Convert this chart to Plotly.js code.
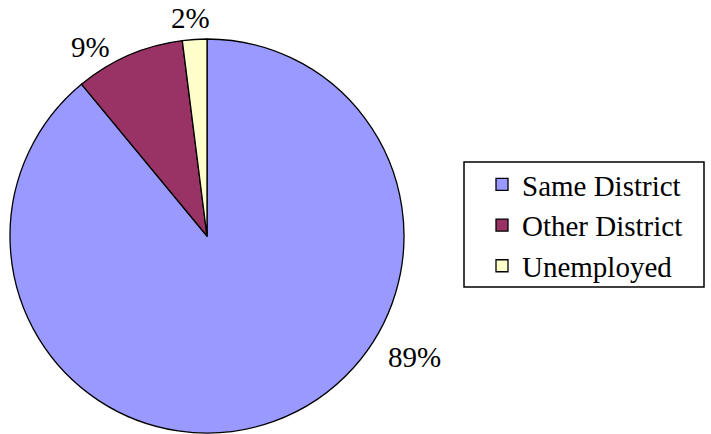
<!DOCTYPE html>
<html><head><meta charset="utf-8">
<script src="https://cdn.plot.ly/plotly-3.0.1.min.js"></script>
<style>html,body{margin:0;padding:0;background:#fff}#chart{width:711px;height:434px}</style>
</head><body><div id="chart"></div>
<script>
const categories = ["Same District", "Other District", "Unemployed"];
const values = [89, 9, 2];
const colors = ["#9999FF", "#993366", "#FFFFCC"];
const labelPos = [[414, 357], [90, 47], [191, 18]];

const W = 711, H = 434;
const cx = 207, cy = 236, r = 197;
const total = values.reduce((a, b) => a + b, 0);
const FONT = "Liberation Serif, Times New Roman, serif";

const trace = {
  type: "pie",
  labels: categories,
  values: values,
  sort: false,
  direction: "clockwise",
  rotation: 0,
  marker: { colors: colors, line: { color: "#000", width: 1.3 } },
  textinfo: "none",
  hoverinfo: "label+percent",
  domain: { x: [(cx - r) / W, (cx + r) / W], y: [(H - cy - r) / H, (H - cy + r) / H] }
};

const annotations = values.map((v, i) => ({
  text: Math.round(v / total * 100) + "%",
  x: labelPos[i][0] / W, y: 1 - labelPos[i][1] / H,
  xref: "paper", yref: "paper", showarrow: false,
  xanchor: "center", yanchor: "middle",
  font: { family: FONT, size: 29, color: "#000" }
}));

const layout = {
  width: W, height: H,
  margin: { l: 0, r: 0, t: 0, b: 0 },
  paper_bgcolor: "#fff",
  font: { family: FONT, size: 29, color: "#000" },
  showlegend: true,
  legend: {
    x: 482 / W, y: 1 - 159 / H, xanchor: "left", yanchor: "top",
    borderwidth: 0, bgcolor: "rgba(0,0,0,0)",
    font: { family: FONT, size: 29, color: "#000" },
    tracegroupgap: 0
  },
  shapes: [{
    type: "rect", xref: "paper", yref: "paper",
    x0: 464 / W, x1: 704 / W, y0: 1 - 162 / H, y1: 1 - 287 / H,
    line: { color: "#000", width: 1.5 }, fillcolor: "rgba(0,0,0,0)", layer: "below"
  }],
  annotations: annotations
};

Plotly.newPlot("chart", [trace], layout, { displayModeBar: false, staticPlot: true });
</script>
</body></html>
